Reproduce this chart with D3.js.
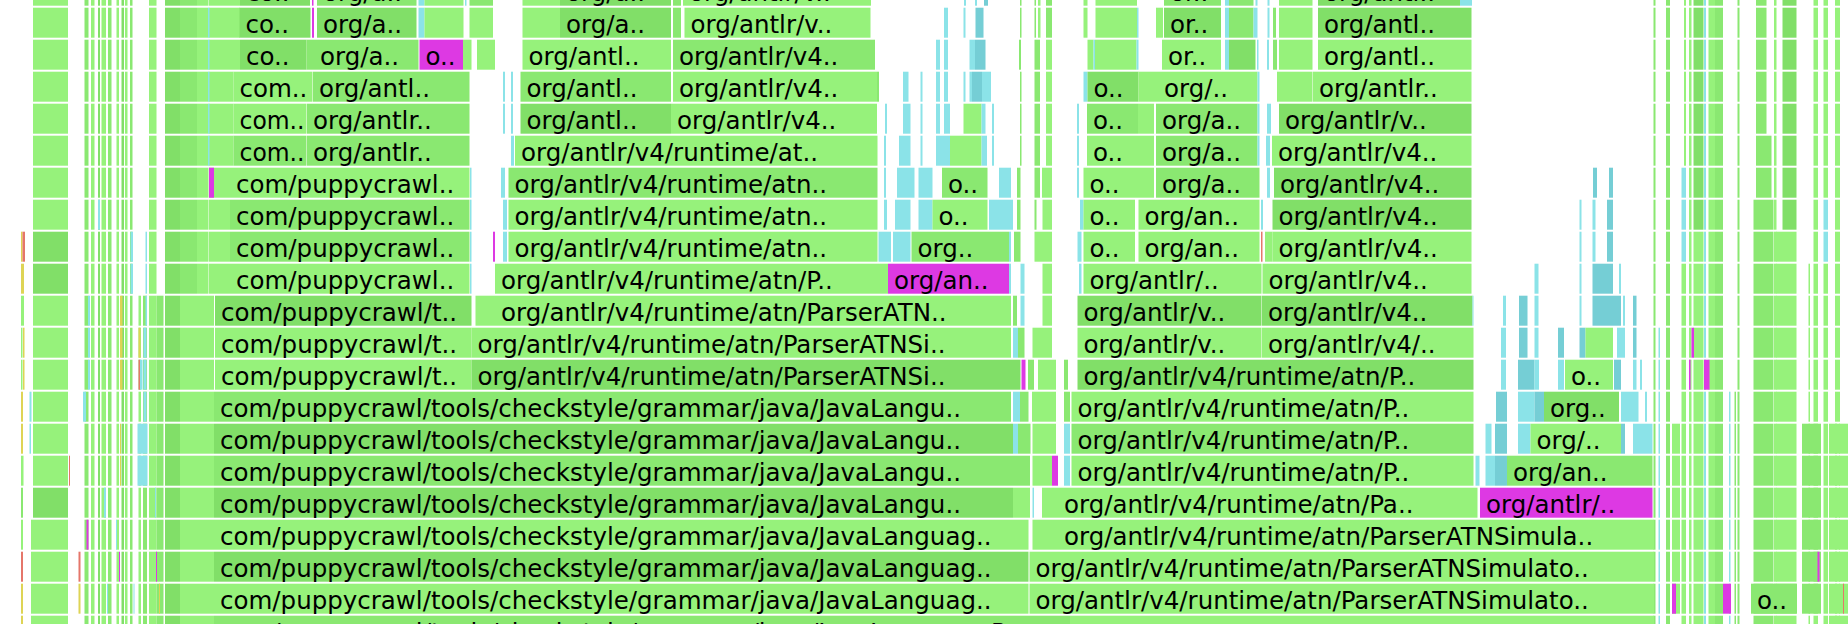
<!DOCTYPE html>
<html><head><meta charset="utf-8">
<script src="https://cdn.jsdelivr.net/npm/d3@7"></script>
<style>html,body{margin:0;padding:0;background:#fff;overflow:hidden}</style>
</head><body><div id="chart"></div>
<script>
// ---- DATA (x values are sample offsets inside the visible window of 3696 samples) ----
const visibleSamples = 3696;
const rowCount = 21;

// colour keys used by frames
const colorKeys = ['a','b','c','q','Q','p','y','r'];
const colorValues = ['#96f27b','#8ae871','#81df68','#8be3e8','#75ced5','#dd39e3','#ded455','#e5766a'];

// stacked columns of frames repeated over a range of depths: [rowFrom,rowTo,start,end,color]
const leftColumns = [
  [0,7,66,136,'a'],[8,9,66,136,'c'],[10,15,66,136,'a'],[16,16,66,136,'c'],[17,20,62,136,'a'],
  [0,20,169,177,'b'],[0,20,182,189,'a'],[0,20,196,200,'c'],[0,20,203,212,'a'],[0,20,216,223,'b'],
  [0,20,233,238,'a'],[0,20,243,248,'c'],[0,20,250,255,'a'],[0,20,260,265,'b'],
  [10,20,277,282,'a'],[10,20,286,294,'b'],
  [0,20,298,313,'a'],[10,20,313,327,'b'],
  [0,9,330,360,'c'],[0,9,360,394,'b'],[0,9,394,416,'a'],[0,9,417,428,'a'],
  [10,20,330,360,'c'],[10,20,360,428,'a'],
  [1,5,416,419,'q'],[6,6,418,428,'p'],
  [0,2,428,480,'a'],[3,5,428,467,'a'],[6,9,428,460,'a']
];
const leftAccents = [
  [8,8,42,45,'y'],[8,8,45,50,'r'],[9,9,42,48,'y'],[10,10,42,48,'a'],[11,11,42,45,'a'],[11,11,46,49,'y'],
  [12,12,42,45,'a'],[12,12,46,49,'y'],[13,13,42,46,'y'],[13,13,59,63,'q'],[14,14,42,46,'y'],[14,14,59,62,'q'],
  [15,15,42,47,'a'],[16,16,42,46,'b'],[17,17,42,46,'a'],[18,18,42,46,'r'],[19,19,42,46,'y'],[20,20,42,46,'y'],
  [7,7,196,200,'q'],[8,9,261,266,'q'],[8,10,291,294,'q'],[10,12,176,180,'q'],[10,12,240,245,'y'],
  [11,11,277,281,'y'],[12,12,277,280,'r'],[12,12,280,285,'q'],[11,13,287,293,'q'],[13,13,166,172,'q'],
  [14,15,275,295,'q'],[14,15,240,242,'y'],[15,15,138,140,'r'],[16,16,208,212,'q'],[16,16,310,312,'q'],
  [17,17,173,177,'p'],[17,17,232,234,'q'],[18,18,157,161,'r'],[18,18,238,240,'p'],[18,18,312,314,'p'],
  [19,19,157,161,'y'],[19,19,214,216,'q'],[19,19,267,269,'q'],[19,19,318,320,'y']
];
const rightColumns = [
  [0,20,3307,3311,'b'],[0,20,3332,3340,'b'],[0,5,3368,3372,'a'],[6,8,3363,3372,'q'],[9,20,3363,3372,'a'],
  [0,20,3378,3383,'a'],[0,7,3387,3407,'c'],[8,20,3387,3407,'a'],[0,20,3408,3412,'q'],
  [0,20,3417,3430,'a'],[0,20,3430,3446,'b'],[0,20,3475,3479,'b'],
  [0,4,3512,3533,'b'],[5,6,3512,3543,'b'],[7,20,3507,3547,'b'],[0,20,3548,3553,'a'],
  [0,7,3565,3593,'c'],[8,20,3552,3593,'a'],[0,20,3627,3636,'a'],
  [0,6,3647,3656,'a'],[7,8,3647,3656,'q'],[9,20,3647,3656,'a'],[0,20,3670,3680,'a'],
  [9,20,3617,3620,'a'],[11,20,3317,3320,'q'],[13,20,3458,3461,'q'],[13,20,3469,3472,'b'],
  [14,19,3344,3360,'a'],[14,19,3604,3642,'b'],[14,20,3658,3674,'a'],[14,20,3678,3696,'a']
];
const rightAccents = [
  [11,11,3383,3388,'p'],[12,12,3378,3381,'p'],[12,12,3408,3419,'p'],[19,19,3344,3352,'p'],
  [19,19,3446,3462,'p'],[18,18,3635,3639,'p'],[19,19,3686,3688,'r']
];

// single frames: [depthRow,start,end,color,label]
const framesTop = [
  [0,480,620,'c','co..'],[0,624,627,'p'],[0,634,833,'b','org/a..'],[0,837,849,'q'],[0,849,927,'a'],[0,930,933,'q'],
  [0,939,986,'b'],[0,1045,1120,'a'],[0,1120,1342,'c','org/a..'],[0,1346,1362,'b'],[0,1366,1742,'a','org/antlr/v..'],
  [0,1928,1932,'q'],[0,1950,1954,'q'],[0,1968,1976,'Q'],[0,2040,2043,'b'],[0,2069,2072,'b'],[0,2076,2081,'a'],
  [0,2092,2104,'b'],[0,2167,2175,'a'],[0,2191,2274,'a'],[0,2328,2442,'b','or..'],[0,2450,2458,'q'],[0,2458,2507,'b'],
  [0,2511,2515,'q'],[0,2535,2539,'q'],[0,2558,2625,'a'],[0,2636,2920,'c','org/antl..'],[0,2920,2944,'q'],
  [1,479,621,'c','co..'],[1,624,628,'p'],[1,634,833,'c','org/a..'],[1,837,849,'q'],[1,849,927,'a'],[1,939,986,'a'],
  [1,1045,1120,'a'],[1,1120,1342,'c','org/a..'],[1,1346,1362,'b'],[1,1369,1741,'a','org/antlr/v..'],
  [1,1888,1896,'q'],[1,1927,1931,'q'],[1,1951,1967,'Q'],[1,2040,2043,'b'],[1,2069,2072,'b'],[1,2076,2081,'a'],
  [1,2092,2104,'b'],[1,2167,2175,'a'],[1,2191,2274,'a'],[1,2274,2277,'q'],[1,2312,2326,'a'],[1,2328,2442,'c','or..'],
  [1,2450,2458,'q'],[1,2458,2507,'b'],[1,2507,2515,'q'],[1,2535,2539,'q'],[1,2546,2552,'b'],[1,2558,2625,'a'],
  [1,2636,2943,'c','org/antl..'],
  [2,480,613,'c','co..'],[2,613,628,'b'],[2,628,837,'b','org/a..'],[2,839,926,'p','o..'],[2,926,943,'a'],[2,954,990,'a'],
  [2,1045,1342,'a','org/antl..'],[2,1346,1750,'b','org/antlr/v4..'],[2,1872,1880,'q'],[2,1888,1896,'q'],
  [2,1939,1950,'q'],[2,1950,1971,'Q'],[2,2038,2042,'b'],[2,2069,2080,'b'],[2,2092,2104,'a'],[2,2175,2187,'a'],
  [2,2187,2190,'q'],[2,2190,2273,'a'],[2,2273,2277,'q'],[2,2324,2442,'a','or..'],[2,2450,2458,'q'],[2,2458,2511,'c'],
  [2,2514,2517,'q'],[2,2534,2538,'q'],[2,2546,2554,'b'],[2,2558,2625,'a'],[2,2636,2943,'a','org/antl..'],
  [3,467,625,'a','com..'],[3,626,939,'b','org/antl..'],[3,1006,1010,'q'],[3,1022,1026,'q'],[3,1041,1342,'b','org/antl..'],
  [3,1346,1754,'a','org/antlr/v4..'],[3,1754,1758,'b'],[3,1806,1817,'q'],[3,1841,1845,'q'],[3,1872,1880,'q'],
  [3,1888,1896,'q'],[3,1927,1931,'q'],[3,1939,1944,'q'],[3,1944,1964,'Q'],[3,1964,1982,'q'],[3,2040,2043,'b'],
  [3,2069,2080,'b'],[3,2092,2104,'a'],[3,2167,2175,'q'],[3,2175,2277,'c','o..'],[3,2277,2316,'a'],
  [3,2316,2515,'a','org/..'],[3,2515,2519,'q'],[3,2554,2625,'a'],[3,2626,2943,'a','org/antlr..'],
  [4,467,613,'a','com..'],[4,614,939,'b','org/antlr..'],[4,1006,1010,'q'],[4,1022,1026,'q'],[4,1041,1342,'c','org/antl..'],
  [4,1342,1754,'a','org/antlr/v4..'],[4,1770,1774,'q'],[4,1806,1821,'q'],[4,1841,1845,'q'],[4,1872,1880,'q'],
  [4,1888,1900,'q'],[4,1927,1963,'a'],[4,1963,1971,'q'],[4,1984,1988,'q'],[4,2040,2043,'b'],[4,2069,2080,'b'],
  [4,2092,2104,'a'],[4,2154,2158,'q'],[4,2174,2276,'b','o..'],[4,2276,2308,'a'],[4,2312,2515,'b','org/a..'],
  [4,2515,2519,'q'],[4,2534,2542,'q'],[4,2558,2943,'c','org/antlr/v..'],
  [5,467,613,'b','com..'],[5,614,939,'b','org/antlr..'],[5,1022,1028,'q'],[5,1030,1755,'a','org/antlr/v4/runtime/at..'],
  [5,1768,1772,'q'],[5,1798,1821,'q'],[5,1841,1845,'q'],[5,1872,1900,'q'],[5,1900,1963,'a'],[5,1963,1974,'q'],
  [5,1984,1988,'q'],[5,2040,2043,'b'],[5,2069,2080,'b'],[5,2092,2104,'a'],[5,2154,2158,'q'],[5,2174,2276,'a','o..'],
  [5,2276,2308,'a'],[5,2312,2515,'b','org/a..'],[5,2515,2519,'q'],[5,2532,2540,'q'],[5,2544,2943,'a','org/antlr/v4..']
];
const framesMiddle = [
  [6,460,939,'a','com/puppycrawl..'],[6,940,943,'q'],[6,1002,1010,'q'],[6,1017,1755,'b','org/antlr/v4/runtime/atn..'],
  [6,1768,1772,'q'],[6,1794,1829,'q'],[6,1837,1865,'q'],[6,1884,1975,'b','o..'],[6,1998,2022,'q'],[6,2034,2041,'b'],
  [6,2069,2080,'b'],[6,2084,2104,'a'],[6,2154,2158,'q'],[6,2167,2270,'a','o..'],[6,2270,2308,'a'],
  [6,2312,2519,'b','org/a..'],[6,2534,2540,'q'],[6,2548,2943,'c','org/antlr/v4..'],[6,3186,3194,'Q'],[6,3218,3226,'Q'],
  [7,460,939,'b','com/puppycrawl..'],[7,940,943,'q'],[7,1006,1014,'q'],[7,1017,1755,'a','org/antlr/v4/runtime/atn..'],
  [7,1768,1774,'q'],[7,1790,1821,'q'],[7,1837,1865,'q'],[7,1865,1975,'a','o..'],[7,1978,2026,'q'],[7,2034,2041,'b'],
  [7,2069,2073,'b'],[7,2085,2104,'a'],[7,2160,2167,'q'],[7,2167,2270,'a','o..'],[7,2277,2519,'a','org/an..'],
  [7,2522,2526,'q'],[7,2545,2943,'c','org/antlr/v4..'],[7,3159,3163,'q'],[7,3185,3191,'q'],[7,3214,3226,'Q'],
  [8,460,939,'b','com/puppycrawl..'],[8,940,943,'q'],[8,986,990,'p'],[8,1006,1014,'q'],
  [8,1017,1755,'a','org/antlr/v4/runtime/atn..'],[8,1757,1782,'q'],[8,1786,1821,'q'],[8,1823,2018,'b','org..'],
  [8,2018,2022,'q'],[8,2028,2041,'b'],[8,2069,2104,'a'],[8,2155,2163,'q'],[8,2167,2270,'a','o..'],
  [8,2277,2519,'a','org/an..'],[8,2522,2525,'r'],[8,2530,2545,'a'],[8,2545,2943,'a','org/antlr/v4..'],
  [8,3159,3163,'q'],[8,3185,3191,'q'],[8,3214,3226,'Q'],
  [9,460,939,'a','com/puppycrawl..'],[9,940,943,'q'],[9,990,1776,'a','org/antlr/v4/runtime/atn/P..'],
  [9,1776,2018,'p','org/an..'],[9,2018,2022,'q'],[9,2041,2049,'q'],[9,2085,2104,'a'],[9,2158,2163,'q'],
  [9,2167,2523,'a','org/antlr/..'],[9,2525,2943,'a','org/antlr/v4..'],[9,3069,3077,'q'],[9,3159,3163,'q'],
  [9,3185,3226,'Q'],[9,3238,3242,'q'],
  [10,430,943,'c','com/puppycrawl/t..'],[10,951,990,'a'],[10,990,2022,'a','org/antlr/v4/runtime/atn/ParserATN..'],
  [10,2026,2034,'b'],[10,2041,2049,'q'],[10,2085,2104,'a'],[10,2155,2523,'c','org/antlr/v..'],
  [10,2524,2945,'c','org/antlr/v4..'],[10,2945,2947,'q'],[10,3006,3012,'q'],[10,3038,3055,'Q'],[10,3069,3077,'q'],
  [10,3159,3163,'q'],[10,3185,3242,'Q'],[10,3246,3250,'q'],[10,3266,3273,'Q'],
  [11,430,943,'a','com/puppycrawl/t..'],[11,943,2022,'a','org/antlr/v4/runtime/atn/ParserATNSi..'],
  [11,2026,2036,'q'],[11,2036,2049,'b'],[11,2065,2104,'a'],[11,2155,2523,'a','org/antlr/v..'],
  [11,2524,2947,'a','org/antlr/v4/..'],[11,3002,3012,'q'],[11,3038,3055,'Q'],[11,3069,3077,'q'],[11,3116,3128,'Q'],
  [11,3159,3171,'Q'],[11,3171,3226,'a'],[11,3234,3250,'q'],[11,3266,3273,'Q'],
  [12,430,943,'a','com/puppycrawl/t..'],[12,943,2041,'c','org/antlr/v4/runtime/atn/ParserATNSi..'],
  [12,2043,2051,'p'],[12,2056,2068,'b'],[12,2076,2112,'a'],[12,2128,2136,'b'],
  [12,2155,2947,'c','org/antlr/v4/runtime/atn/P..'],[12,3002,3012,'q'],[12,3036,3069,'Q'],[12,3069,3078,'q'],
  [12,3116,3128,'q'],[12,3130,3226,'a','o..'],[12,3228,3242,'Q'],[12,3266,3273,'q'],[12,3280,3284,'q']
];
const framesBottom = [
  [13,428,2022,'b','com/puppycrawl/tools/checkstyle/grammar/java/JavaLangu..'],[13,2026,2040,'q'],[13,2040,2057,'b'],
  [13,2064,2112,'a'],[13,2128,2140,'b'],[13,2143,2947,'a','org/antlr/v4/runtime/atn/P..'],[13,2992,3014,'Q'],
  [13,3036,3069,'q'],[13,3069,3088,'Q'],[13,3088,3238,'c','org..'],[13,3242,3277,'q'],[13,3290,3294,'q'],
  [14,428,2026,'c','com/puppycrawl/tools/checkstyle/grammar/java/JavaLangu..'],[14,2026,2036,'q'],[14,2036,2061,'b'],
  [14,2065,2112,'a'],[14,2128,2140,'q'],[14,2143,2947,'b','org/antlr/v4/runtime/atn/P..'],[14,2971,2983,'q'],
  [14,2990,3014,'Q'],[14,3036,3061,'q'],[14,3061,3242,'a','org/..'],[14,3242,3250,'Q'],[14,3266,3305,'q'],
  [15,428,2026,'b','com/puppycrawl/tools/checkstyle/grammar/java/JavaLangu..'],[15,2026,2060,'b'],[15,2065,2104,'a'],
  [15,2104,2116,'p'],[15,2128,2140,'q'],[15,2143,2947,'a','org/antlr/v4/runtime/atn/P..'],[15,2951,2959,'q'],
  [15,2971,2990,'q'],[15,2990,3014,'Q'],[15,3014,3305,'b','org/an..'],
  [16,428,2026,'c','com/puppycrawl/tools/checkstyle/grammar/java/JavaLangu..'],[16,2026,2060,'a'],[16,2065,2068,'q'],
  [16,2084,2116,'a'],[16,2116,2955,'a','org/antlr/v4/runtime/atn/Pa..'],[16,2960,3305,'p','org/antlr/..'],
  [17,428,2057,'a','com/puppycrawl/tools/checkstyle/grammar/java/JavaLanguag..'],[17,2065,2116,'a'],
  [17,2116,3308,'a','org/antlr/v4/runtime/atn/ParserATNSimula..'],
  [18,428,2057,'c','com/puppycrawl/tools/checkstyle/grammar/java/JavaLanguag..'],
  [18,2059,3308,'a','org/antlr/v4/runtime/atn/ParserATNSimulato..'],
  [19,428,2057,'a','com/puppycrawl/tools/checkstyle/grammar/java/JavaLanguag..'],
  [19,2059,3308,'a','org/antlr/v4/runtime/atn/ParserATNSimulato..'],[19,3502,3594,'b','o..'],
  [20,428,2140,'b','com/puppycrawl/tools/checkstyle/grammar/java/JavaLanguageP..'],[20,2140,3308,'a']
];

// ---- RENDER ----
const W = 1848, H = 624;
const rowPitch = 32, rowHeight = 30, firstRowTop = -24.3;
const x = d3.scaleLinear().domain([0, visibleSamples]).range([0, W]);
const yRow = d3.scaleLinear().domain([0, rowCount]).range([firstRowTop, firstRowTop + rowPitch * rowCount]);
const color = d3.scaleOrdinal().domain(colorKeys).range(colorValues);

function expand(cols) {
  const out = [];
  cols.forEach(([r0, r1, s, e, c]) => { for (let r = r0; r <= r1; r++) out.push({row: r, s, e, c}); });
  return out;
}
const single = arr => arr.map(([row, s, e, c, label]) => ({row, s, e, c, label}));

const layers = [
  expand(leftColumns), expand(rightColumns),
  single(framesTop), single(framesMiddle), single(framesBottom),
  expand(leftAccents), expand(rightAccents)
];

const svg = d3.select('#chart').append('svg')
  .attr('width', W).attr('height', H)
  .style('display', 'block').style('background', '#fff');

const g = svg.append('g');
layers.forEach((data, i) => {
  g.append('g').attr('class', 'layer' + i)
    .selectAll('rect').data(data).join('rect')
    .attr('x', d => x(d.s))
    .attr('y', d => yRow(d.row))
    .attr('width', d => Math.max(0.5, x(d.e) - x(d.s)))
    .attr('height', rowHeight)
    .attr('fill', d => color(d.c));
});

const labelled = [].concat(single(framesTop), single(framesMiddle), single(framesBottom)).filter(d => d.label);
const texts = g.append('g').selectAll('text').data(labelled).join('text')
  .attr('x', d => x(d.s) + 6)
  .attr('y', d => yRow(d.row) + 25)
  .attr('font-family', 'DejaVu Sans, Verdana, sans-serif')
  .attr('font-size', '24.5px')
  .attr('fill', '#000')
  .text(d => d.label);
texts.each(function(d) {
  const maxW = x(d.e) - x(d.s) - 8;
  const len = this.getComputedTextLength();
  if (len > maxW) d3.select(this).attr('textLength', maxW).attr('lengthAdjust', 'spacingAndGlyphs');
});
</script>
</body></html>
